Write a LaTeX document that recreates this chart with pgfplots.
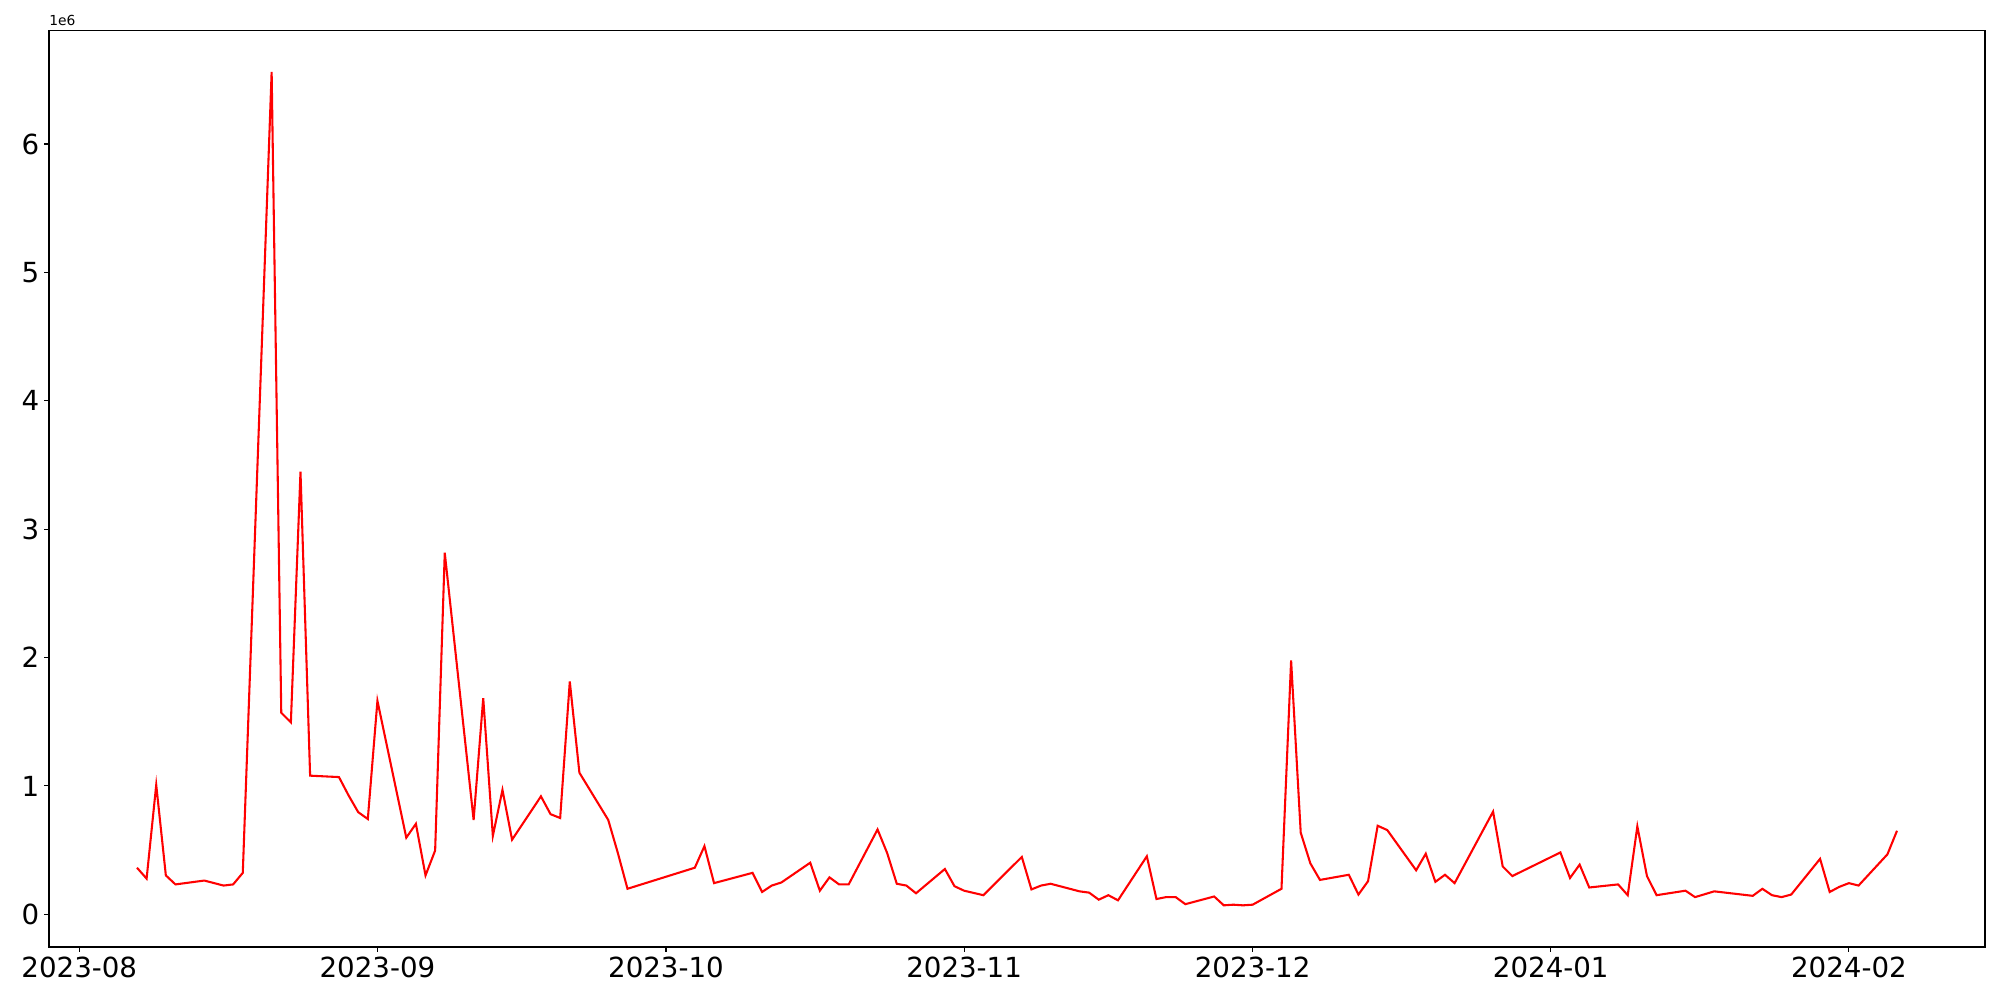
\documentclass[border=0pt]{standalone}
\usepackage{fontspec}
\setmainfont{DejaVu Sans}
\usepackage{pgfplots}
\pgfplotsset{compat=1.18}
\begin{document}
\begin{tikzpicture}
\begin{axis}[
  scale only axis,
  width=1399.15pt, height=662.5pt,
  xmin=-3.15, xmax=198.15,
  ymin=-0.2546, ymax=6.8856,
  xtick={0,31,61,92,122,153,184},
  xticklabels={2023-08,2023-09,2023-10,2023-11,2023-12,2024-01,2024-02},
  ytick={0,1,2,3,4,5,6},
  yticklabels={0,1,2,3,4,5,6},
  tick align=outside,
  major tick length=3.5pt,
  every tick/.style={black, line width=0.8pt},
  axis line style={line width=0.8pt},
  ticklabel style={font=\fontsize{20}{24}\selectfont},
  /pgf/number format/assume math mode=true,
  xtick pos=bottom, ytick pos=left,
  clip=true,
]
\addplot[red, line width=1.5pt] table {
6 0.363
7 0.278
8 1.008
9 0.303
10 0.233
13 0.263
15 0.224
16 0.233
17 0.323
20 6.561
21 1.570
22 1.495
23 3.447
24 1.080
27 1.069
28 0.926
29 0.796
30 0.742
31 1.663
34 0.597
35 0.705
36 0.303
37 0.497
38 2.816
41 0.735
42 1.684
43 0.611
44 0.969
45 0.581
48 0.919
49 0.780
50 0.750
51 1.813
52 1.103
55 0.735
56 0.477
57 0.199
64 0.363
65 0.531
66 0.243
70 0.323
71 0.174
72 0.224
73 0.248
76 0.402
77 0.184
78 0.288
79 0.233
80 0.233
83 0.661
84 0.477
85 0.238
86 0.224
87 0.164
90 0.353
91 0.219
92 0.184
94 0.149
98 0.447
99 0.194
100 0.224
101 0.238
104 0.179
105 0.169
106 0.114
107 0.149
108 0.109
111 0.452
112 0.119
113 0.134
114 0.134
115 0.079
118 0.139
119 0.070
120 0.075
121 0.070
122 0.075
125 0.199
126 1.977
127 0.636
128 0.397
129 0.268
132 0.308
133 0.154
134 0.258
135 0.690
136 0.656
139 0.343
140 0.472
141 0.253
142 0.308
143 0.243
147 0.800
148 0.373
149 0.298
154 0.482
155 0.283
156 0.387
157 0.209
160 0.233
161 0.149
162 0.685
163 0.298
164 0.149
167 0.184
168 0.134
170 0.179
174 0.144
175 0.199
176 0.149
177 0.134
178 0.154
181 0.432
182 0.174
183 0.214
184 0.243
185 0.224
188 0.467
189 0.651
};
\end{axis}
\node[anchor=south west, inner sep=0pt, font=\fontsize{10}{12}\selectfont] at ([yshift=3pt]current axis.north west) {1e6};
\path ([xshift=-35.41pt, yshift=-38.30pt]current axis.south west) rectangle ([xshift=10.84pt, yshift=21.9pt]current axis.north east);
\end{tikzpicture}
\end{document}
